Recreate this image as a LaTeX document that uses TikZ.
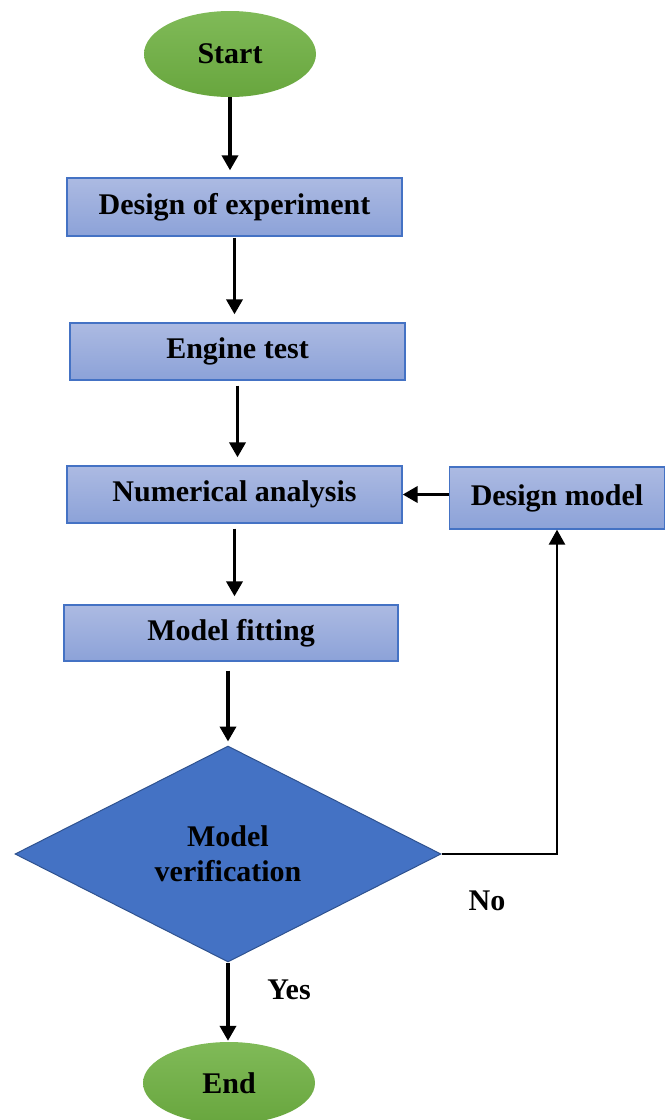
\documentclass[tikz,border=0pt]{standalone}
\usepackage{fontspec}
\setmainfont{Liberation Serif}
\usetikzlibrary{shapes.geometric,arrows.meta}
\definecolor{boxtop}{RGB}{172,186,226}
\definecolor{boxbot}{RGB}{140,162,216}
\definecolor{boxline}{RGB}{68,114,196}
\definecolor{greentop}{RGB}{128,186,88}
\definecolor{greenbot}{RGB}{104,166,62}
\definecolor{diafill}{RGB}{68,114,196}
\definecolor{dialine}{RGB}{47,82,143}
\tikzset{
  txt/.style={font=\fontsize{30}{35}\selectfont\bfseries, text=black},
  procbox/.style={txt, rectangle, draw=boxline, line width=1.3pt, top color=boxtop, bottom color=boxbot, inner sep=0pt},
  term/.style={txt, ellipse, draw=none, top color=greentop, bottom color=greenbot, inner sep=0pt, minimum width=172pt},
  decis/.style={txt, diamond, draw=dialine, line width=1pt, fill=diafill, inner sep=0pt, shape aspect=2, align=center},
  arr/.style={draw=black, line width=3.6pt, -{Triangle[length=15pt,width=16pt]}},
  lbl/.style={txt}
}
\begin{document}
\begin{tikzpicture}[x=1pt,y=-1pt]
\useasboundingbox (0,0) rectangle (666,1120);
\node[term, minimum height=86pt] (start) at (230,54) {Start};
\node[procbox, minimum width=335pt, minimum height=58pt] (doe) at (234.5,207) {Design of experiment};
\node[procbox, minimum width=335pt, minimum height=57pt] (eng) at (237.5,351.5) {Engine test};
\node[procbox, minimum width=335pt, minimum height=57pt] (num) at (234.5,494.5) {Numerical analysis};
\node[procbox, minimum width=215pt, minimum height=62pt] (dm) at (557,498) {Design model};
\node[procbox, minimum width=334pt, minimum height=56pt] (fit) at (231,633) {Model fitting};
\node[decis, minimum width=426pt, minimum height=216pt] (ver) at (228,854) {Model\\verification};
\node[term, minimum height=82pt] (end) at (229,1083) {End};
\node[lbl] (no) at (487,901) {No};
\node[lbl] (yes) at (289,990) {Yes};

\draw[arr, shorten >=7pt] (start.south) -- (start.south |- doe.north);
\draw[arr, shorten >=8pt, shorten <=1pt] (doe.south) -- (doe.south |- eng.north);
\draw[arr, shorten >=8pt, shorten <=5pt] (eng.south) -- (eng.south |- num.north);
\draw[arr, shorten >=8pt, shorten <=5pt] (num.south) -- (num.south |- fit.north);
\draw[arr, shorten >=4pt, shorten <=9pt] (ver.north |- fit.south) -- (ver.north);
\draw[arr, shorten >=1pt] (ver.south) -- (ver.south |- end.north);
\draw[arr] (dm.west |- num.east) -- (num.east);
\draw[line width=2.6pt, -{Triangle[length=15pt,width=16pt]}] (ver.east) -| (dm.south);
\end{tikzpicture}
\end{document}
